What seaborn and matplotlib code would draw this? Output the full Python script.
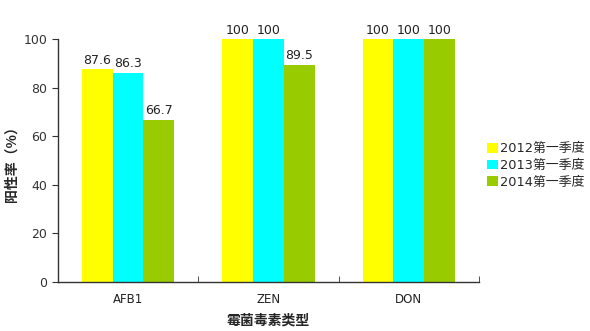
import matplotlib
matplotlib.use("Agg")
import matplotlib.pyplot as plt
import seaborn as sns
import pandas as pd
from matplotlib.ticker import FixedLocator

categories = ["AFB1", "ZEN", "DON"]
series = ["2012第一季度", "2013第一季度", "2014第一季度"]
values_2012 = [87.6, 100, 100]
values_2013 = [86.3, 100, 100]
values_2014 = [66.7, 89.5, 100]
colors = ["#FFFF00", "#00FFFF", "#99CC00"]
yticks = [0, 20, 40, 60, 80, 100]

rows = []
for s, vals in zip(series, [values_2012, values_2013, values_2014]):
    for c, v in zip(categories, vals):
        rows.append({"cat": c, "series": s, "value": v})
df = pd.DataFrame(rows)

sns.set_style("ticks")
plt.rcParams['font.family'] = ['DejaVu Sans', 'Noto Sans CJK SC']

fig = plt.figure(figsize=(5.9, 3.31), dpi=100)
ax = fig.add_axes([0.098, 0.148, 0.714, 0.733])
sns.barplot(data=df, x="cat", y="value", hue="series", palette=colors,
            width=0.66, gap=0, saturation=1, ax=ax, errorbar=None,
            linewidth=0, edgecolor="none")

for cont in ax.containers:
    ax.bar_label(cont, labels=["%g" % v for v in cont.datavalues], padding=2,
                 fontsize=9, color="#222222")

ax.set_ylim(0, 100)
ax.set_yticks(yticks)
ax.set_xlim(-0.5, 2.5)
ax.tick_params(axis="x", length=0, labelsize=8.5, pad=8, colors="#222222")
ax.xaxis.set_minor_locator(FixedLocator([-0.5, 0.5, 1.5, 2.5]))
ax.tick_params(axis="x", which="minor", direction="in", length=4, color="#333333")
ax.tick_params(axis="y", direction="out", length=4, labelsize=9, colors="#333333")
for sp in ["top", "right"]:
    ax.spines[sp].set_visible(False)
for sp in ["left", "bottom"]:
    ax.spines[sp].set_color("#333333")
    ax.spines[sp].set_linewidth(1)

ax.set_xlabel("霉菌毒素类型", fontsize=10, fontweight="bold",
              family=["Noto Sans CJK SC", "DejaVu Sans"])
ax.xaxis.set_label_coords(0.5, -0.13)
ax.set_ylabel("阳性率（%）", fontsize=10, fontweight="bold",
              family=["Noto Sans CJK SC", "DejaVu Sans"])
ax.yaxis.set_label_coords(-0.093, 0.5)

leg = ax.legend(loc="center left", bbox_to_anchor=(0.826, 0.5), bbox_transform=fig.transFigure,
                frameon=False, handlelength=0.8, handleheight=0.8, handletextpad=0.15,
                borderaxespad=0, borderpad=0,
                labelspacing=0.3, prop={"family": ["DejaVu Sans", "Noto Sans CJK SC"], "size": 9.3})

fig.savefig("out.png", dpi=100, facecolor="white")
